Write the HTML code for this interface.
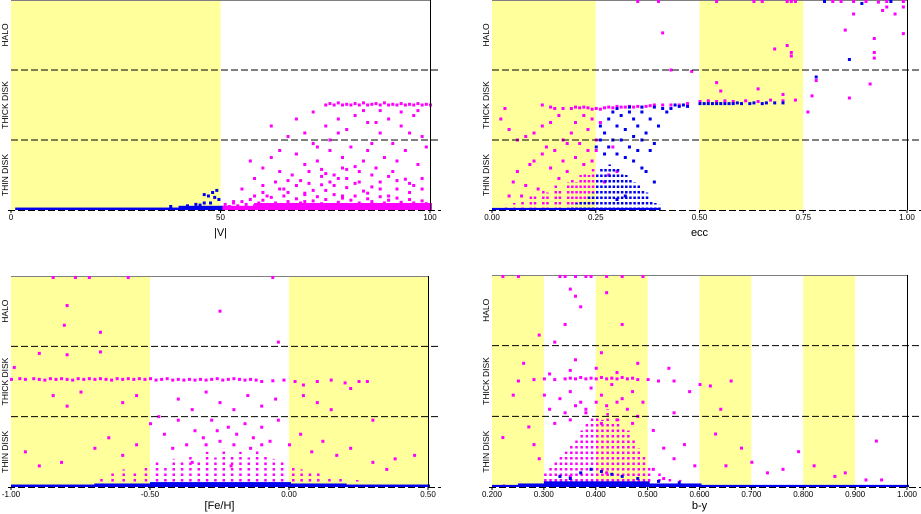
<!DOCTYPE html>
<html><head><meta charset="utf-8"><style>
html,body{margin:0;padding:0;background:#fff;}
svg{display:block;font-family:"Liberation Sans",sans-serif;}
</style></head><body>
<svg id="chart" width="921" height="514" viewBox="0 0 921 514" xmlns="http://www.w3.org/2000/svg"></svg>
<script>
// ---------- DATA ----------
const zoneLabels = ["THIN DISK","THICK DISK","HALO"];
const tlTicks = [0,50,100];
const tlTickLabels = ["0","50","100"];
const trTicks = [0,0.25,0.5,0.75,1];
const trTickLabels = ["0.00","0.25","0.50","0.75","1.00"];
const blTicks = [-1,-0.5,0,0.5];
const blTickLabels = ["-1.00","-0.50","0.00","0.50"];
const brTicks = [0.2,0.3,0.4,0.5,0.6,0.7,0.8,0.9,1.0];
const brTickLabels = ["0.200","0.300","0.400","0.500","0.600","0.700","0.800","0.900","1.000"];

const tlBands = [[0,50]];
const trBands = [[0,0.25],[0.5,0.75]];
const blBands = [[-1,-0.5],[0,0.5]];
const brBands = [[0.2,0.3],[0.4,0.5],[0.6,0.7],[0.8,0.9]];

// strips: [xStart, xEnd, yTop]
const tlBlueStrip = [[1,50,0.035],[40,50,0.06]];
const tlPinkStrip = [[50,100,0.06],[58,100,0.1]];
const tlBluePts = [[44,0.08],[46,0.1],[47,0.2],[48,0.25],[49,0.28],[47.5,0.1],[45,0.07],[48.5,0.18],[49.5,0.15],[46,0.22],[42,0.06],[38,0.05]];
const tlPinkLow = [[51,0.08],[53,0.1],[54,0.06],[55,0.12],[56,0.08],[57,0.15],[58,0.06],[59,0.1],[60,0.14],[61,0.08],[62,0.18],[63,0.1],[64,0.06],[65,0.2],[66,0.12],[67,0.08],[68,0.16],[69,0.1],[70,0.24],[71,0.07],[72,0.13],[73,0.19],[74,0.09],[75,0.15],[76,0.06],[77,0.22],[78,0.11],[79,0.17],[80,0.08],[81,0.14],[82,0.2],[83,0.1],[84,0.06],[85,0.16],[86,0.12],[87,0.08],[88,0.19],[89,0.1],[90,0.14],[91,0.07],[92,0.17],[93,0.11],[94,0.08],[95,0.15],[96,0.1],[97,0.06],[98,0.13],[99,0.09],[60,0.25],[64,0.3],[68,0.35],[72,0.28],[76,0.4],[80,0.32],[84,0.27],[88,0.4],[92,0.3],[96,0.35],[66,0.42],[74,0.36],[78,0.45],[82,0.38],[86,0.33],[90,0.48],[94,0.44],[98,0.3],[52,0.05],[62,0.05],[70,0.12],[58,0.2],[75,0.52],[80,0.58]];
const tlPinkPts = [[75,1.5],[76,1.52],[77,1.5],[78,1.53],[79,1.5],[80,1.51],[81,1.5],[82,1.52],[83,1.5],[84,1.53],[85,1.5],[86,1.51],[87,1.52],[88,1.5],[89,1.53],[90,1.5],[91,1.51],[92,1.5],[93,1.52],[94,1.5],[95,1.51],[96,1.5],[97,1.52],[98,1.5],[99,1.51],[100,1.5],
[66,1.05],[70,1.1],[72,0.95],[75,1.2],[78,1.3],[80,1.15],[82,1.35],[85,1.25],[88,1.1],[90,1.3],[93,1.2],[96,1.35],[98,1.05],[62,0.75],[64,0.55],[68,0.8],[70,0.65],[73,0.7],[76,0.85],[79,0.6],[81,0.9],[84,0.7],[86,0.95],[89,0.75],[91,0.55],[94,0.85],[97,0.65],[99,0.9],[58,0.45],[60,0.35],[63,0.4],[65,0.3],[67,0.5],[69,0.42],[71,0.38],[74,0.48],[77,0.35],[80,0.45],[83,0.4],[86,0.5],[88,0.3],[92,0.42],[95,0.38],[98,0.45],[72,1.4],[68,1.3],[84,1.42],[61,0.2],[66,0.25],[70,0.22],[75,0.28],[79,0.2],[85,0.24],[90,0.2],[95,0.25],[57,0.7],[55,0.3],[53,0.12],[62,1.2],[76,1.0],[91,0.95],[87,0.6],[74,0.58],[82,0.62],
[71,0.55],[77,0.5],[83,0.55],[73,0.9],[79,0.75],[85,0.85],[92,0.7],[78,1.1],[87,1.25],[95,1.1],[64,0.85],[60,0.6],[93,1.4],[97,1.42],[88,1.42]];

const trBlueStrip = [[0,0.4,0.03]];
const trPinkCols = [[0.03,0.08],[0.05,0.1],[0.07,0.15],[0.09,0.2],[0.1,0.22],[0.12,0.3],[0.13,0.25],[0.15,0.35],[0.16,0.3],[0.18,0.4],[0.19,0.45],[0.2,0.4],[0.21,0.5],[0.22,0.55],[0.23,0.5],[0.24,0.6]];
const trBlueCols = [[0.19,0.08],[0.2,0.1],[0.21,0.12],[0.22,0.15],[0.23,0.2],[0.24,0.25],[0.25,0.55],[0.26,0.6],[0.27,0.62],[0.28,0.65],[0.29,0.6],[0.3,0.6],[0.31,0.55],[0.32,0.5],[0.33,0.45],[0.34,0.4],[0.35,0.35],[0.36,0.3],[0.37,0.25],[0.38,0.15],[0.39,0.1],[0.4,0.08]];
const trPinkPts = [[0.12,1.5],[0.14,1.47],[0.15,1.45],[0.17,1.45],[0.19,1.45],[0.2,1.47],[0.21,1.46],[0.22,1.47],[0.23,1.46],[0.24,1.44],[0.25,1.45],[0.26,1.44],[0.27,1.46],[0.28,1.47],[0.29,1.46],[0.3,1.48],[0.31,1.47],[0.32,1.47],[0.33,1.48],[0.34,1.47],[0.35,1.48],[0.36,1.47],[0.37,1.48],[0.38,1.49],[0.39,1.5],[0.41,1.5],[0.43,1.5],[0.45,1.5],[0.47,1.52],[0.03,1.45],
[0.02,1.3],[0.04,1.15],[0.06,1.0],[0.07,0.2],[0.08,1.05],[0.09,0.65],[0.1,1.1],[0.1,0.7],[0.11,0.3],[0.12,1.2],[0.13,0.9],[0.14,0.6],[0.14,1.25],[0.15,0.85],[0.16,0.45],[0.16,1.35],[0.17,0.7],[0.17,1.0],[0.18,0.55],[0.19,1.1],[0.2,0.75],[0.2,1.25],[0.21,0.95],[0.22,0.65],[0.22,1.35],[0.23,0.85],[0.23,1.15],[0.24,0.7],[0.24,1.3],[0.25,1.0],[0.25,0.85],[0.26,1.25],[0.27,0.4],[0.28,0.5],[0.29,0.9],[0.3,0.55],[0.12,0.8],[0.18,0.95],[0.06,0.55],[0.08,0.35],[0.04,0.2],[0.05,0.4],
[0.5,1.55],[0.52,1.56],[0.54,1.55],[0.56,1.56],[0.58,1.55],[0.61,1.56],[0.64,1.55],[0.67,1.57],[0.7,1.56],[0.73,1.57],
[0.35,3],[0.4,3],[0.54,3],[0.63,3],[0.65,3],[0.71,3],[0.72,3],[0.73,3],[0.8,3],[0.82,3],[0.84,3],[0.87,2.99],[0.9,2.98],[0.93,2.97],[0.95,2.98],[0.99,2.99],[0.41,2.53],[0.43,2.0],[0.48,1.98],[0.68,2.3],[0.71,2.35],[0.72,2.25],[0.72,2.2],[0.85,2.57],[0.87,2.8],[0.92,2.45],[0.92,2.25],[0.92,2.17],[0.94,2.85],[0.95,2.9],[0.97,2.8],[0.99,2.52],[0.99,2.9],[0.78,1.85],[0.77,1.63],[0.76,1.4],[0.86,1.6],[0.91,1.8],[0.54,1.82],[0.55,1.7],[0.64,1.73],[0.7,1.65]];
const trBluePts = [[0.25,0.9],[0.26,1.0],[0.26,1.2],[0.27,0.8],[0.27,1.1],[0.28,0.9],[0.28,1.3],[0.29,1.0],[0.29,1.4],[0.3,0.8],[0.3,1.2],[0.31,1.0],[0.31,1.35],[0.32,0.75],[0.32,1.15],[0.33,0.9],[0.33,1.4],[0.34,0.7],[0.34,1.05],[0.34,1.3],[0.35,0.85],[0.35,1.2],[0.36,0.6],[0.36,1.0],[0.36,1.4],[0.37,0.55],[0.37,1.1],[0.38,0.85],[0.38,1.3],[0.39,0.4],[0.39,0.95],[0.4,1.2],[0.41,1.45],[0.42,1.4],[0.43,1.45],[0.44,1.5],[0.45,1.48],[0.46,1.5],[0.47,1.48],[0.3,1.45],[0.33,1.47],[0.36,1.47],[0.39,1.47],[0.5,1.52],[0.51,1.52],[0.52,1.52],[0.53,1.52],[0.54,1.52],[0.55,1.52],[0.56,1.52],[0.57,1.52],[0.58,1.52],[0.59,1.53],[0.6,1.52],[0.62,1.52],[0.63,1.53],[0.65,1.52],[0.66,1.53],[0.68,1.53],[0.7,1.53],[0.8,3],[0.89,2.95],[0.86,2.15],[0.78,1.9],[0.96,3],[0.3,0.15],[0.32,0.2]];

const blBlueStrip = [[-1,0.5,0.035],[-0.7,0.2,0.05],[-0.5,0,0.07]];
const blPinkCols = [[-0.68,0.15],[-0.64,0.2],[-0.6,0.25],[-0.56,0.22],[-0.52,0.3],[-0.48,0.35],[-0.45,0.28],[-0.42,0.4],[-0.39,0.35],[-0.36,0.45],[-0.33,0.38],[-0.3,0.5],[-0.27,0.42],[-0.24,0.55],[-0.21,0.45],[-0.18,0.5],[-0.15,0.42],[-0.12,0.55],[-0.09,0.45],[-0.06,0.4],[-0.03,0.35],[0.01,0.3],[0.04,0.25],[0.07,0.22],[0.1,0.2],[0.14,0.15],[0.18,0.12],[0.24,0.1],[0.3,0.08]];
const blPinkPts = [[-1,1.53],[-0.97,1.54],[-0.95,1.53],[-0.92,1.54],[-0.9,1.53],[-0.88,1.52],[-0.86,1.54],[-0.84,1.53],[-0.82,1.54],[-0.8,1.53],[-0.78,1.52],[-0.76,1.54],[-0.74,1.53],[-0.72,1.54],[-0.7,1.53],[-0.68,1.54],[-0.66,1.53],[-0.64,1.52],[-0.62,1.54],[-0.6,1.53],[-0.58,1.54],[-0.56,1.53],[-0.54,1.54],[-0.52,1.53],[-0.5,1.54],[-0.48,1.52],[-0.46,1.53],[-0.44,1.54],[-0.42,1.52],[-0.4,1.53],[-0.38,1.52],[-0.36,1.53],[-0.34,1.52],[-0.32,1.53],[-0.3,1.52],[-0.28,1.53],[-0.26,1.54],[-0.24,1.52],[-0.22,1.53],[-0.2,1.54],[-0.18,1.53],[-0.16,1.52],[-0.14,1.53],[-0.12,1.52],[-0.1,1.5],[-0.06,1.51],[-0.02,1.52],[0.02,1.5],[0.05,1.45],[0.1,1.5],[0.15,1.52],[0.2,1.48],[0.25,1.5],[0.28,1.5],
[-0.99,1.7],[-0.9,1.9],[-0.8,1.88],[-0.68,1.92],[-0.85,1.3],[-0.75,1.35],[-0.6,1.2],[-0.55,1.3],[-0.4,1.25],[-0.35,1.1],[-0.3,1.35],[-0.25,1.2],[-0.2,1.1],[-0.15,1.3],[-0.1,1.15],[-0.05,1.25],[0.05,1.3],[0.1,1.2],[0.15,1.1],[0.22,1.4],[0.3,0.95],[0.45,0.45],[-0.95,0.5],[-0.9,0.3],[-0.82,0.35],[-0.7,0.55],[-0.65,0.7],[-0.6,0.45],[-0.55,0.6],[-0.5,0.9],[-0.45,0.75],[-0.4,0.95],[-0.37,0.6],[-0.34,0.8],[-0.31,0.7],[-0.28,0.95],[-0.25,0.65],[-0.22,0.85],[-0.19,0.75],[-0.16,0.9],[-0.13,0.7],[-0.1,0.85],[-0.07,0.65],[-0.04,0.95],[0.0,0.6],[0.04,0.75],[0.08,0.5],[0.12,0.65],[0.17,0.45],[0.22,0.55],[0.3,0.35],[0.35,0.25],[0.38,0.4],[-0.42,0.55],[-0.3,0.6],[-0.2,0.6],[-0.1,0.6],[-0.26,0.8],[-0.14,0.55],[-0.85,3],[-0.77,3],[-0.72,2.98],[-0.58,3],[-0.06,3],[-0.8,2.58],[-0.81,2.3],[-0.68,2.2],[-0.25,2.5],[-0.04,2.06],[-0.8,1.15],[-0.47,1.0],[-0.35,0.35],[-0.21,0.3]];

const brBlueStrip = [[0.2,1.0,0.03],[0.25,0.6,0.05],[0.3,0.5,0.08]];
const brPinkCols = [[0.22,0.05],[0.25,0.08],[0.3,0.2],[0.31,0.3],[0.32,0.35],[0.33,0.45],[0.34,0.5],[0.35,0.6],[0.36,0.7],[0.37,0.8],[0.38,0.9],[0.39,1.0],[0.4,1.0],[0.41,0.95],[0.42,1.1],[0.43,0.9],[0.44,1.0],[0.45,0.85],[0.46,0.8],[0.47,0.7],[0.48,0.55],[0.49,0.45],[0.5,0.3],[0.52,0.2],[0.54,0.15],[0.56,0.1]];
const brPinkPts = [[0.34,1.53],[0.35,1.54],[0.36,1.53],[0.37,1.55],[0.38,1.53],[0.39,1.54],[0.4,1.53],[0.41,1.55],[0.42,1.53],[0.43,1.54],[0.44,1.53],[0.45,1.55],[0.46,1.53],[0.47,1.54],[0.48,1.52],[0.3,1.53],[0.32,1.52],[0.5,1.52],[0.52,1.5],[0.55,1.5],[0.6,1.45],[0.62,1.43],[0.66,1.5],[0.28,1.52],[0.25,1.5],
[0.33,3],[0.34,3],[0.36,3],[0.38,2.98],[0.39,3],[0.42,3],[0.45,3],[0.49,3],[0.22,3],[0.25,3],[0.35,2.8],[0.36,2.7],[0.42,2.75],[0.37,2.55],[0.45,2.3],[0.29,2.15],[0.32,2.05],[0.34,2.3],[0.26,1.75],[0.36,1.8],[0.41,1.9],[0.48,1.75],[0.54,1.68],[0.31,1.6],[0.35,1.65],[0.4,1.68],[0.44,1.62],
[0.3,1.3],[0.33,1.25],[0.35,1.35],[0.37,1.2],[0.39,1.4],[0.41,1.3],[0.43,1.45],[0.45,1.25],[0.47,1.35],[0.49,1.2],[0.31,1.1],[0.34,1.05],[0.36,1.15],[0.38,1.1],[0.4,1.2],[0.42,1.15],[0.44,1.2],[0.46,1.1],[0.48,1.0],[0.32,0.9],[0.35,0.95],[0.38,1.05],[0.41,0.9],[0.44,0.95],[0.47,0.9],[0.27,0.85],[0.24,1.3],[0.22,0.7],[0.28,0.6],[0.29,0.4],[0.51,0.8],[0.53,0.55],[0.55,0.4],[0.57,0.6],[0.59,0.3],[0.63,0.75],[0.65,0.3],[0.68,0.55],[0.7,0.35],[0.73,0.2],[0.76,0.25],[0.79,0.5],[0.82,0.3],[0.86,0.15],[0.88,0.2],[0.92,0.1],[0.94,0.65],[0.95,0.1],[0.55,1.05],[0.58,1.35],[0.64,1.1],[0.51,0.25],[0.53,0.12],[0.35,0.15],[0.42,0.2]];
const brBluePts = [[0.37,0.2],[0.39,0.25],[0.41,0.22],[0.43,0.18],[0.45,0.15],[0.35,0.12],[0.33,0.15],[0.48,0.12],[0.52,0.08],[0.56,0.06]];

// ---------- RENDER ----------
const NS = "http://www.w3.org/2000/svg";
const svg = document.getElementById("chart");
const PINK = "#ff00ff", BLUE = "#0000ee", YEL = "#ffff9c";

function mk(tag, attrs, parent){
  const e = document.createElementNS(NS, tag);
  for (const k in attrs) e.setAttribute(k, attrs[k]);
  (parent||svg).appendChild(e);
  return e;
}

function panel(cfg){
  const g = mk("g", {});
  
  
  const sx = v => cfg.x0 + (v - cfg.xmin) / (cfg.xmax - cfg.xmin) * (cfg.x1 - cfg.x0);
  const sy = v => cfg.bottom - v / 3 * (cfg.bottom - cfg.top);
  cfg.bands.forEach(b => {
    const r = mk("rect", {x: sx(b[0]), y: cfg.top, width: sx(b[1]) - sx(b[0]), height: cfg.bottom - cfg.top, fill: YEL}, g);
    
    
  });
  const tb = mk("line", {x1: cfg.x0, x2: cfg.x1, y1: cfg.top + 0.5, y2: cfg.top + 0.5, stroke: "#808080", "stroke-width": 1}, g);
  
  
  function strips(arr, color){
    arr.forEach(s => {
      const r = mk("rect", {x: sx(s[0]), y: sy(s[2]), width: sx(s[1]) - sx(s[0]) + 2, height: cfg.bottom - sy(s[2]), fill: color}, g);
      
      
    });
  }
  function cols(arr, color){
    arr.forEach(c => {
      const l = mk("line", {x1: sx(c[0]) + 1.5, x2: sx(c[0]) + 1.5, y1: cfg.bottom, y2: sy(c[1]), stroke: color, "stroke-width": 2.5, "stroke-dasharray": "2.5,3"}, g);
      
      
    });
  }
  function pts(arr, color){
    arr.forEach(p => {
      const r = mk("rect", {x: sx(p[0]) - 1, y: Math.max(cfg.top, sy(p[1]) - 1.5), width: 3, height: 3, fill: color}, g);
      
      
    });
  }
  (cfg.order || []).forEach(o => {
    if (o[0] === "strip") strips(o[1], o[2]);
    else if (o[0] === "col") cols(o[1], o[2]);
    else pts(o[1], o[2]);
  });
  [1, 2].forEach(v => {
    const l = mk("line", {x1: cfg.x0, x2: cfg.xe, y1: sy(v), y2: sy(v), stroke: "#000", "stroke-width": 1, "stroke-dasharray": "7,3"}, g);
    
    
  });
  const xa = mk("line", {x1: cfg.x0 - 3, x2: cfg.xe, y1: cfg.bottom + 0.5, y2: cfg.bottom + 0.5, stroke: "#000", "stroke-width": 1, "stroke-dasharray": "7,3"}, g);
  
  
  const ya = mk("line", {x1: cfg.x1 + 0.5, x2: cfg.x1 + 0.5, y1: cfg.top, y2: cfg.bottom, stroke: "#000", "stroke-width": 1}, g);
  
  
  cfg.ticks.forEach((t, i) => {
    const tk = mk("line", {x1: sx(t), x2: sx(t), y1: cfg.bottom, y2: cfg.bottom + 3, stroke: "#000"}, g);
    
    
    const tx = mk("text", {x: sx(t), y: cfg.bottom + 10, "font-size": 8, "text-anchor": "middle", fill: "#000"}, g);
    tx.textContent = cfg.tickLabels[i];
    
    
  });
  const at = mk("text", {x: sx(cfg.titleAt), y: cfg.bottom + cfg.titleDy, "font-size": 11, "text-anchor": "middle", fill: "#000"}, g);
  at.textContent = cfg.title;
  
  
  zoneLabels.forEach((lab, i) => {
    const cy = sy(i + 0.5);
    const cx = cfg.x0 - 3;
    const t = mk("text", {x: cx, y: cy, "font-size": 8.5, "text-anchor": "middle", transform: `rotate(-90 ${cx} ${cy})`, fill: "#000"}, g);
    t.textContent = lab;
    
    
  });
}

panel({name: "velocity-panel", x0: 11, x1: 430, xe: 441, top: 0, bottom: 210, xmin: 0, xmax: 100, bands: tlBands, ticks: tlTicks, tickLabels: tlTickLabels, title: "|V|", titleAt: 50, titleDy: 26,
  order: [["strip", tlPinkStrip, PINK], ["pts", tlPinkLow, PINK], ["pts", tlPinkPts, PINK], ["strip", tlBlueStrip, BLUE], ["pts", tlBluePts, BLUE]]});
panel({name: "eccentricity-panel", x0: 492, x1: 907, xe: 921, top: 0, bottom: 210, xmin: 0, xmax: 1, bands: trBands, ticks: trTicks, tickLabels: trTickLabels, title: "ecc", titleAt: 0.5, titleDy: 26,
  order: [["col", trPinkCols, PINK], ["pts", trPinkPts, PINK], ["col", trBlueCols, BLUE], ["pts", trBluePts, BLUE], ["strip", trBlueStrip, BLUE]]});
panel({name: "metallicity-panel", x0: 11, x1: 428, xe: 441, top: 276, bottom: 487, xmin: -1, xmax: 0.5, bands: blBands, ticks: blTicks, tickLabels: blTickLabels, title: "[Fe/H]", titleAt: -0.25, titleDy: 22,
  order: [["col", blPinkCols, PINK], ["pts", blPinkPts, PINK], ["strip", blBlueStrip, BLUE]]});
panel({name: "color-index-panel", x0: 492, x1: 907, xe: 921, top: 275, bottom: 487, xmin: 0.2, xmax: 1.0, bands: brBands, ticks: brTicks, tickLabels: brTickLabels, title: "b-y", titleAt: 0.6, titleDy: 22,
  order: [["col", brPinkCols, PINK], ["pts", brPinkPts, PINK], ["strip", brBlueStrip, BLUE], ["pts", brBluePts, BLUE]]});
</script>
</body></html>
